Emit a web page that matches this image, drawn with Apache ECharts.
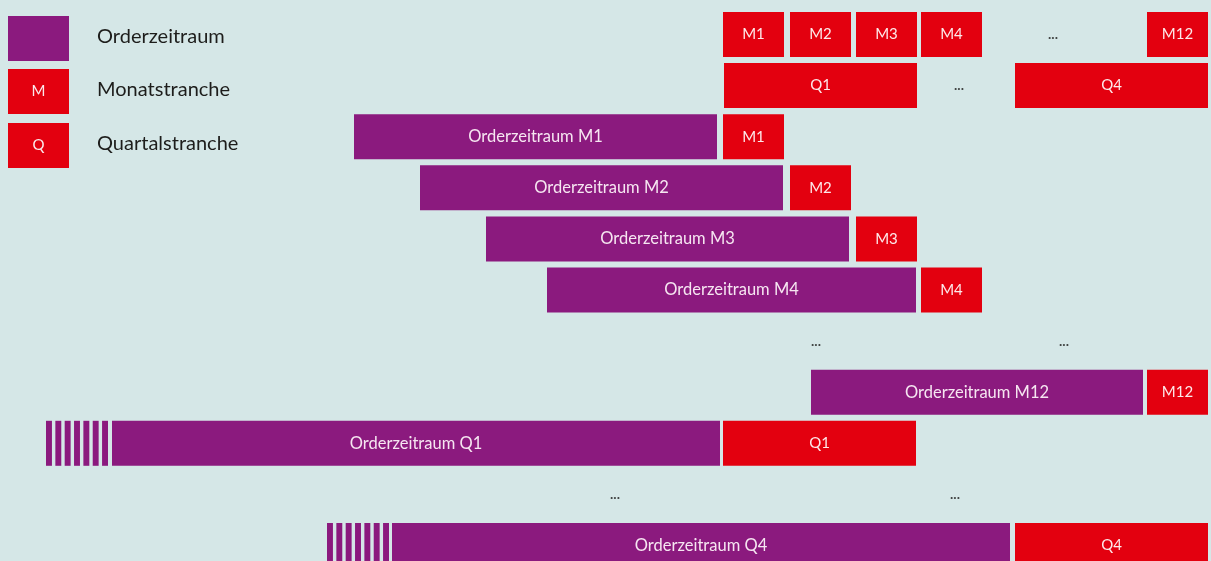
<!DOCTYPE html>
<html>
<head>
<meta charset="utf-8">
<script src="https://cdn.jsdelivr.net/npm/echarts@6/dist/echarts.min.js"></script>
<style>
  html, body { margin: 0; padding: 0; background: #d5e7e7; }
  #chart { width: 1211px; height: 561px; }
</style>
</head>
<body>
<div id="chart"></div>
<script>
// Zeitachse (Position) und Zeilen 0..10 von oben nach unten
var orderBars = [
    [354, 717, 2, 'Orderzeitraum M1'],
    [420, 783, 3, 'Orderzeitraum M2'],
    [486, 849, 4, 'Orderzeitraum M3'],
    [547, 916, 5, 'Orderzeitraum M4'],
    [811, 1143, 7, 'Orderzeitraum M12'],
    [112, 720, 8, 'Orderzeitraum Q1'],
    [392, 1010, 10, 'Orderzeitraum Q4']
];
var trancheBars = [
    [723, 784, 0, 'M1'], [790, 851, 0, 'M2'], [856, 917, 0, 'M3'], [921, 982, 0, 'M4'], [1147, 1208, 0, 'M12'],
    [724, 917, 1, 'Q1'], [1015, 1208, 1, 'Q4'],
    [723, 784, 2, 'M1'], [790, 851, 3, 'M2'], [856, 917, 4, 'M3'], [921, 982, 5, 'M4'],
    [1147, 1208, 7, 'M12'], [723, 916, 8, 'Q1'], [1015, 1208, 10, 'Q4']
];
// schraffierter Vorlauf vor den Quartals-Orderzeiträumen
var stripeBars = [
    [46, 108, 8],
    [327, 389, 10]
];
var dots = [
    [1053, 0], [959, 1], [816, 6], [1064, 6], [615, 9], [955, 9]
];
var legendItems = [
    { name: 'Orderzeitraum', tag: '', color: '#8b1a7e' },
    { name: 'Monatstranche', tag: 'M', color: '#e3000f' },
    { name: 'Quartalstranche', tag: 'Q', color: '#e3000f' }
];

var FONT = 'Lato';
var ROW = 51.1;
var BAR_H = 45 / ROW; // Balkenhöhe in Zeilen

function barItem(fill, textColor, size) {
    return function (params, api) {
        var p0 = api.coord([api.value(0), api.value(2)]);
        var p1 = api.coord([api.value(1), api.value(2)]);
        var h = api.size([0, BAR_H])[1];
        return {
            type: 'rect',
            shape: { x: p0[0], y: p0[1] - h / 2, width: p1[0] - p0[0], height: h },
            style: { fill: fill },
            textContent: {
                style: { text: api.value(3), fill: textColor, fontFamily: FONT, fontSize: size }
            },
            textConfig: { position: 'inside' }
        };
    };
}

function stripeItem(params, api) {
    var p0 = api.coord([api.value(0), api.value(2)]);
    var p1 = api.coord([api.value(1), api.value(2)]);
    var h = api.size([0, BAR_H])[1];
    var n = 7, gap = 3.4;
    var pitch = (p1[0] - p0[0] + gap) / n;
    var kids = [];
    for (var i = 0; i < n; i++) {
        kids.push({
            type: 'rect',
            shape: { x: p0[0] + i * pitch, y: p0[1] - h / 2, width: pitch - gap, height: h },
            style: { fill: '#8b1a7e' }
        });
    }
    return { type: 'group', children: kids };
}

var legendGraphics = [];
legendItems.forEach(function (it, i) {
    var top = [16, 69, 123][i];
    legendGraphics.push({
        type: 'rect', left: 8, top: top,
        shape: { width: 61, height: 45 },
        style: { fill: it.color },
        textContent: { style: { text: it.tag, fill: '#fbe9ec', fontFamily: FONT, fontSize: 15 } },
        textConfig: { position: 'inside' }
    });
    legendGraphics.push({
        type: 'text', x: 97, y: top + 21,
        style: { text: it.name, fill: '#1d1d1b', fontFamily: FONT, fontSize: 20, verticalAlign: 'middle' }
    });
});

var option = {
    backgroundColor: '#d5e7e7',
    animation: false,
    grid: { left: 0, right: 0, top: 0, bottom: 0 },
    xAxis: { type: 'value', min: 0, max: 1211, show: false },
    yAxis: { type: 'value', inverse: true, min: -34.5 / ROW, max: (561 - 34.5) / ROW, show: false },
    graphic: legendGraphics,
    series: [
        { type: 'custom', renderItem: barItem('#8b1a7e', '#f6e6f1', 16.5), data: orderBars, encode: { x: [0, 1], y: 2 } },
        { type: 'custom', renderItem: barItem('#e3000f', '#fde9ea', 15), data: trancheBars, encode: { x: [0, 1], y: 2 } },
        { type: 'custom', renderItem: stripeItem, data: stripeBars, encode: { x: [0, 1], y: 2 } },
        {
            type: 'scatter', symbolSize: 0, data: dots,
            label: { show: true, position: 'inside', formatter: '...', color: '#1d1d1b', fontFamily: FONT, fontWeight: 'bold', fontSize: 14 }
        }
    ]
};
echarts.init(document.getElementById('chart')).setOption(option);
</script>
</body>
</html>
